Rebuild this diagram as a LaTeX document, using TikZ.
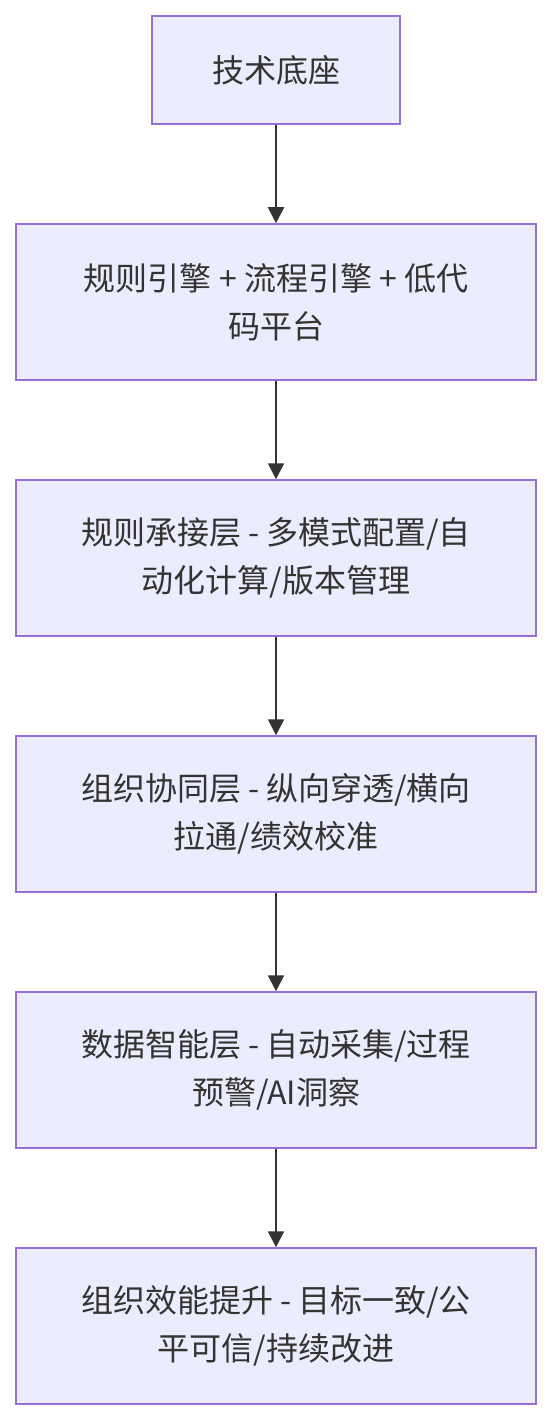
\documentclass[tikz,border=0pt]{standalone}
\usepackage{fontspec}
\setmainfont{Noto Sans CJK SC}
\usetikzlibrary{arrows.meta}
\begin{document}
\begin{tikzpicture}[x=1pt,y=-1pt,
  layerbox/.style={draw=boxborder,fill=boxfill,line width=1.5pt,minimum height=156pt,minimum width=520pt,align=center,font=\fontsize{32}{48}\selectfont,text=textcol,inner sep=0pt},
  conn/.style={draw=arrowcol,line width=2pt,-{Triangle[length=16pt,width=16pt]}}]
\definecolor{boxborder}{HTML}{9370DB}
\definecolor{boxfill}{HTML}{ECECFF}
\definecolor{arrowcol}{HTML}{333333}
\definecolor{textcol}{HTML}{333333}
\useasboundingbox (0,0) rectangle (552,1420);
\node[layerbox,minimum width=248pt,minimum height=108pt] (n1) at (276,70) {技术底座};
\node[layerbox] (n2) at (276,302) {规则引擎 + 流程引擎 + 低代\\码平台};
\node[layerbox] (n3) at (276,558) {规则承接层 - 多模式配置/自\\动化计算/版本管理};
\node[layerbox] (n4) at (276,814) {组织协同层 - 纵向穿透/横向\\拉通/绩效校准};
\node[layerbox] (n5) at (276,1070) {数据智能层 - 自动采集/过程\\预警/AI洞察};
\node[layerbox] (n6) at (276,1326) {组织效能提升 - 目标一致/公\\平可信/持续改进};
\draw[conn] (n1) -- (n2);
\draw[conn] (n2) -- (n3);
\draw[conn] (n3) -- (n4);
\draw[conn] (n4) -- (n5);
\draw[conn] (n5) -- (n6);
\end{tikzpicture}
\end{document}
